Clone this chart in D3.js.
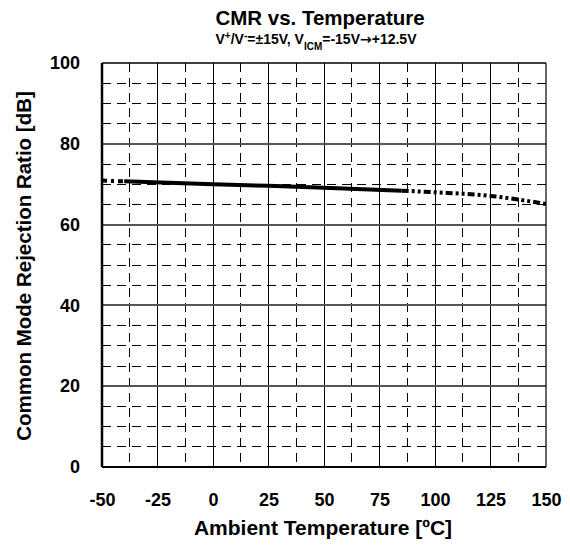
<!DOCTYPE html>
<html><head><meta charset="utf-8">
<script src="https://cdn.jsdelivr.net/npm/d3@7"></script>
<style>
body{margin:0;background:#fff;}
text{font-family:"Liberation Sans",Arial,sans-serif;font-weight:bold;fill:#000;}
</style></head>
<body>
<svg id="c" width="570" height="545"></svg>
<script>
const xTicks = [-50,-25,0,25,50,75,100,125,150];
const yTicks = [0,20,40,60,80,100];
// measured CMR (solid part)
const measTemp = [-40, 0, 25, 50, 85];
const measCMR  = [70.7, 70.0, 69.6, 69.1, 68.4];
// extrapolated (dashed) parts
const extLowTemp = [-50, -40];
const extLowCMR  = [70.9, 70.7];
const extHighTemp = [85, 100, 125, 140, 150];
const extHighCMR  = [68.4, 68.0, 67.1, 66.0, 65.1];

const svg = d3.select("#c");
const L=102, R=546, T=63, B=467;
const x = d3.scaleLinear().domain([-50,150]).range([L,R]);
const y = d3.scaleLinear().domain([0,100]).range([B,T]);

const g = svg.append("g");
// minor dashed grid
const minorX = d3.range(-37.5,150,25);
const minorY = d3.range(5,100,5).filter(v=>v%20!==0);
g.selectAll(".mx").data(minorX).enter().append("line")
 .attr("x1",d=>x(d)).attr("x2",d=>x(d)).attr("y1",T).attr("y2",B)
 .attr("stroke","#000").attr("stroke-width",1).attr("stroke-dasharray","9,6").attr("shape-rendering","crispEdges");
g.selectAll(".my").data(minorY).enter().append("line")
 .attr("x1",L).attr("x2",R).attr("y1",d=>y(d)).attr("y2",d=>y(d))
 .attr("stroke","#000").attr("stroke-width",1).attr("stroke-dasharray","9,6").attr("shape-rendering","crispEdges");
// major grid
g.selectAll(".Mx").data(xTicks.slice(1,-1)).enter().append("line")
 .attr("x1",d=>x(d)).attr("x2",d=>x(d)).attr("y1",T).attr("y2",B)
 .attr("stroke","#000").attr("stroke-width",1).attr("shape-rendering","crispEdges");
g.selectAll(".My").data(yTicks.slice(1,-1)).enter().append("line")
 .attr("x1",L).attr("x2",R).attr("y1",d=>y(d)).attr("y2",d=>y(d))
 .attr("stroke","#555").attr("stroke-width",2).attr("shape-rendering","crispEdges");
// frame
g.append("line").attr("x1",L).attr("x2",R).attr("y1",T).attr("y2",T).attr("stroke","#000").attr("stroke-width",1.5);
g.append("line").attr("x1",R).attr("x2",R).attr("y1",T).attr("y2",B).attr("stroke","#000").attr("stroke-width",1.2);
g.append("line").attr("x1",L).attr("x2",R).attr("y1",B).attr("y2",B).attr("stroke","#000").attr("stroke-width",2);
g.append("line").attr("x1",L).attr("x2",L).attr("y1",T).attr("y2",B).attr("stroke","#000").attr("stroke-width",2.5);

const fmt = d => String(d);
// axes labels via d3 axis
const xa = svg.append("g").attr("transform",`translate(0,${B})`)
 .call(d3.axisBottom(x).tickValues(xTicks).tickFormat(fmt).tickSize(0).tickPadding(26));
xa.select(".domain").remove();
xa.selectAll("text").attr("font-size",18).style("font-family","Liberation Sans, Arial").style("font-weight","bold");
const ya = svg.append("g").attr("transform",`translate(${L},0)`)
 .call(d3.axisLeft(y).tickValues(yTicks).tickFormat(fmt).tickSize(0).tickPadding(22));
ya.select(".domain").remove();
ya.selectAll("text").attr("font-size",18).style("font-family","Liberation Sans, Arial").style("font-weight","bold");

// lines
const line = d3.line().x(d=>x(d[0])).y(d=>y(d[1]));
svg.append("path").datum(d3.zip(measTemp,measCMR)).attr("d",line)
 .attr("fill","none").attr("stroke","#000").attr("stroke-width",4);
svg.append("path").datum(d3.zip(extLowTemp,extLowCMR)).attr("d",line)
 .attr("fill","none").attr("stroke","#000").attr("stroke-width",4).attr("stroke-dasharray","5,4,3,4");
svg.append("path").datum(d3.zip(extHighTemp,extHighCMR)).attr("d",d3.line().curve(d3.curveMonotoneX).x(d=>x(d[0])).y(d=>y(d[1])))
 .attr("fill","none").attr("stroke","#000").attr("stroke-width",4).attr("stroke-dasharray","7,3,3,3,3,3");

// titles
svg.append("text").attr("x",320).attr("y",25).attr("text-anchor","middle").attr("font-size",20.5).text("CMR vs. Temperature");
const st = svg.append("text").attr("x",316).attr("y",44).attr("text-anchor","middle").attr("font-size",14);
st.append("tspan").text("V");
st.append("tspan").attr("baseline-shift","super").attr("font-size",10).text("+");
st.append("tspan").text("/V");
st.append("tspan").attr("baseline-shift","super").attr("font-size",10).text("-");
st.append("tspan").text("=±15V, V");
st.append("tspan").attr("baseline-shift","sub").attr("font-size",10).text("ICM");
st.append("tspan").text("=-15V");
st.append("tspan").style("font-family","DejaVu Sans").text("→");
st.append("tspan").text("+12.5V");

svg.append("text").attr("x",323).attr("y",535).attr("text-anchor","middle").attr("font-size",21).text("Ambient Temperature [ºC]");
svg.append("text").attr("transform",`translate(31,${(85+447)/2}) rotate(-90)`).attr("text-anchor","middle").attr("font-size",20.5).text("Common Mode Rejection Ratio [dB]");
</script>
</body></html>
